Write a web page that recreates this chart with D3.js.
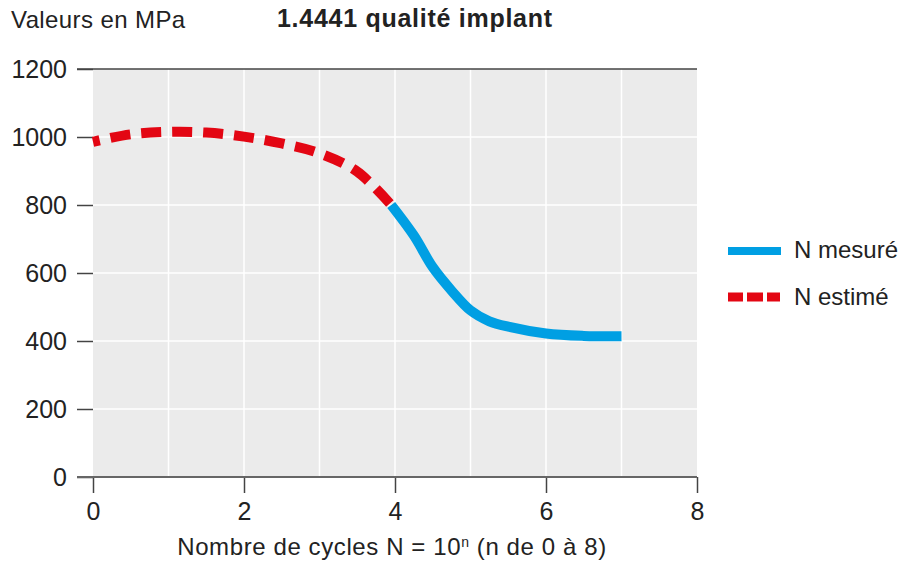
<!DOCTYPE html>
<html>
<head>
<meta charset="utf-8">
<script src="https://cdn.jsdelivr.net/npm/d3@7"></script>
<style>
  body { margin: 0; background: #fff; }
  svg text { font-family: "Liberation Sans", Arial, Helvetica, sans-serif; fill: #222; }
</style>
</head>
<body>
<div class="container"></div>
<script>
// data
var estN = [0, 0.5, 1, 1.5, 2, 2.5, 3, 3.5, 3.95];
var estMPa = [986, 1008, 1015, 1013, 1001, 981, 952, 898, 800];
var mesN = [3.95, 4.25, 4.5, 4.75, 5, 5.25, 5.5, 6, 6.5, 7];
var mesMPa = [800, 710, 617, 548, 490, 458, 442, 422, 415, 414];
var yTicks = [0, 200, 400, 600, 800, 1000, 1200];
var xTicks = [0, 2, 4, 6, 8];
var legendLabels = ["N mesuré", "N estimé"];

var blue = "#009fe3";
var red = "#e30613";

var width = 909, height = 563;
var plotLeft = 93, plotRight = 697, plotTop = 69, plotBottom = 477;

var svg = d3.select('.container')
    .append('svg')
    .attr('width', width)
    .attr('height', height);

var x = d3.scaleLinear().domain([0, 8]).range([plotLeft, plotRight]);
var y = d3.scaleLinear().domain([0, 1200]).range([plotBottom, plotTop]);

// background panel
svg.append('rect')
    .attr('x', plotLeft).attr('y', plotTop)
    .attr('width', plotRight - plotLeft).attr('height', plotBottom - plotTop)
    .attr('fill', '#ebebeb');

// grid
svg.append('g').selectAll('line')
    .data(d3.range(1, 8))
    .enter().append('line')
    .attr('x1', function (d) { return x(d) }).attr('x2', function (d) { return x(d) })
    .attr('y1', plotTop).attr('y2', plotBottom)
    .attr('stroke', '#fff').attr('stroke-width', 1.5);

svg.append('g').selectAll('line')
    .data(yTicks.slice(1, -1))
    .enter().append('line')
    .attr('x1', plotLeft).attr('x2', plotRight)
    .attr('y1', function (d) { return y(d) }).attr('y2', function (d) { return y(d) })
    .attr('stroke', '#fff').attr('stroke-width', 1.5);

// y axis
var yAxis = svg.append('g')
    .attr('transform', 'translate(' + plotLeft + ',0)')
    .call(d3.axisLeft(y).tickValues(yTicks).tickFormat(d3.format('d')).tickSize(16).tickPadding(10));
yAxis.select('.domain').remove();
yAxis.selectAll('line').attr('stroke', '#444').attr('stroke-width', 1.5);
yAxis.selectAll('text').attr('font-size', 25).attr('fill', '#222')
    .style('font-family', '"Liberation Sans", Arial, sans-serif');

// x axis
var xAxis = svg.append('g')
    .attr('transform', 'translate(0,' + plotBottom + ')')
    .call(d3.axisBottom(x).tickValues(xTicks).tickSize(16).tickPadding(9));
xAxis.select('.domain').remove();
xAxis.selectAll('line').attr('stroke', '#444').attr('stroke-width', 1.5);
xAxis.selectAll('text').attr('font-size', 25).attr('fill', '#222')
    .style('font-family', '"Liberation Sans", Arial, sans-serif');

// frame lines top and bottom
svg.append('line')
    .attr('x1', plotLeft - 16).attr('x2', plotRight)
    .attr('y1', y(1200)).attr('y2', y(1200))
    .attr('stroke', '#444').attr('stroke-width', 1.5);
svg.append('line')
    .attr('x1', plotLeft - 16).attr('x2', plotRight)
    .attr('y1', y(0)).attr('y2', y(0))
    .attr('stroke', '#666').attr('stroke-width', 2);

// curves
var line = d3.line()
    .x(function (d) { return x(d[0]) })
    .y(function (d) { return y(d[1]) })
    .curve(d3.curveCatmullRom.alpha(0.5));

svg.append('path')
    .datum(d3.zip(mesN, mesMPa))
    .attr('d', line)
    .attr('fill', 'none')
    .attr('stroke', blue)
    .attr('stroke-width', 10);

svg.append('path')
    .datum(d3.zip(estN, estMPa))
    .attr('d', line)
    .attr('fill', 'none')
    .attr('stroke', red)
    .attr('stroke-width', 10)
    .attr('stroke-dasharray', '7,11,20,11,20,11,20,11,20,11,20,11,20,11,20,11,20,11,20,11,20,11');

// titles
svg.append('text')
    .attr('x', 11).attr('y', 28)
    .attr('font-size', 24)
    .attr('letter-spacing', 0.4)
    .text('Valeurs en MPa');

svg.append('text')
    .attr('x', 277).attr('y', 27)
    .attr('font-size', 25)
    .attr('font-weight', 'bold')
    .attr('textLength', 275)
    .attr('lengthAdjust', 'spacing')
    .text('1.4441 qualité implant');

var xt = svg.append('text')
    .attr('x', 392).attr('y', 555)
    .attr('text-anchor', 'middle')
    .attr('font-size', 24)
    .attr('letter-spacing', 0.6);
xt.append('tspan').text('Nombre de cycles N = 10');
xt.append('tspan').attr('font-size', 14).attr('dy', -8).text('n');
xt.append('tspan').attr('dy', 8).text(' (n de 0 à 8)');

// legend
var leg = svg.append('g');
leg.append('line')
    .attr('x1', 728).attr('x2', 781)
    .attr('y1', 251).attr('y2', 251)
    .attr('stroke', blue).attr('stroke-width', 8);
leg.append('line')
    .attr('x1', 728).attr('x2', 781)
    .attr('y1', 297).attr('y2', 297)
    .attr('stroke', red).attr('stroke-width', 9)
    .attr('stroke-dasharray', '15,4,16,4,13');
leg.selectAll('text')
    .data(legendLabels)
    .enter().append('text')
    .attr('x', 794)
    .attr('y', function (d, i) { return 258 + i * 47 })
    .attr('font-size', 24)
    .text(function (d) { return d });
</script>
</body>
</html>
